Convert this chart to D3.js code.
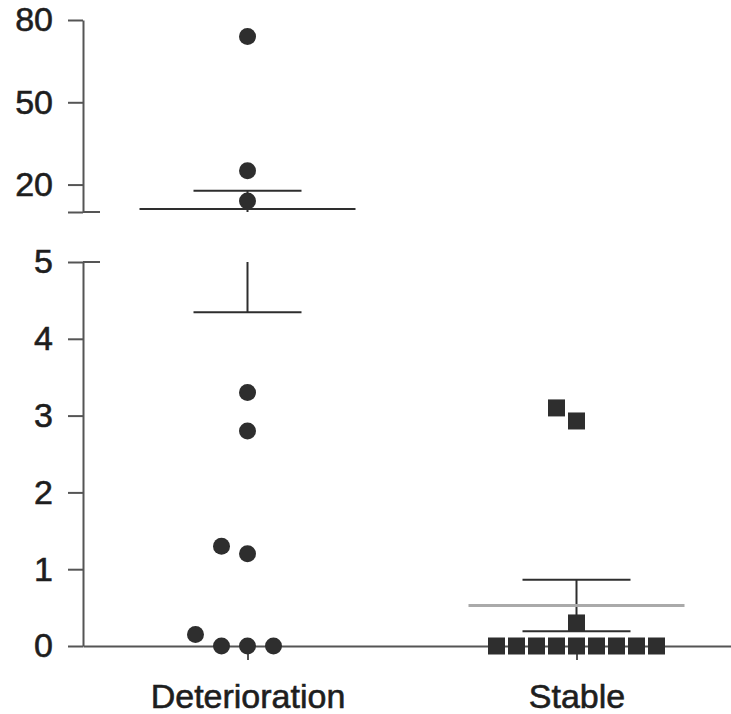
<!DOCTYPE html>
<html>
<head>
<meta charset="utf-8">
<script src="https://cdn.jsdelivr.net/npm/d3@7"></script>
<style>
  body { margin: 0; background: #fff; }
  svg { display: block; }
</style>
</head>
<body>
<svg id="chart"></svg>
<script>
// group names and raw values per group
const categories = ["Deterioration", "Stable"];
const deterioration = [74, 25, 14, 3.3, 2.8, 1.3, 1.2, 0.15, 0, 0, 0];
const stable = [3.1, 2.93, 0.3, 0, 0, 0, 0, 0, 0, 0, 0, 0];

// broken y axis: lower part 0-5, upper part 10-80
const lowerDomain = [0, 5];
const upperDomain = [10, 80];
const lowerTicks = [0, 1, 2, 3, 4, 5];
const upperTicks = [10, 20, 50, 80];

const width = 731;
const height = 714;
const ink = "#2e2e2e";
const axisInk = "#555";
const font = "'Liberation Sans', Arial, Helvetica, sans-serif";

const svg = d3.select("#chart")
    .attr("width", width)
    .attr("height", height);

svg.append("rect").attr("width", width).attr("height", height).attr("fill", "#fff");

const x = d3.scalePoint()
    .domain(categories)
    .range([83, 741])
    .padding(0.5);

const yLow = d3.scaleLinear().domain(lowerDomain).range([646, 262]);
const yHigh = d3.scaleLinear().domain(upperDomain).range([212, 20]);
const yVal = v => v <= lowerDomain[1] ? yLow(v) : yHigh(v);

function styleAxis(g) {
    g.attr("font-family", font).attr("font-size", 34);
    g.selectAll("path, line").attr("stroke", axisInk).attr("stroke-width", 2);
    // labels in the figure are a touch heavier than plain regular
    g.selectAll("text").attr("fill", "#1e1e1e")
        .attr("stroke", "#1e1e1e").attr("stroke-width", 0.6);
}

// lower y axis
svg.append("g")
    .attr("transform", "translate(83,0)")
    .call(d3.axisLeft(yLow).tickValues(lowerTicks).tickSize(15).tickSizeOuter(0).tickPadding(15).tickFormat(d3.format("d")))
    .call(styleAxis);

// upper y axis (10 is the break, unlabelled)
svg.append("g")
    .attr("transform", "translate(83,0)")
    .call(d3.axisLeft(yHigh).tickValues(upperTicks).tickSize(15).tickSizeOuter(0).tickPadding(15)
        .tickFormat(d => d === upperDomain[0] ? "" : d))
    .call(styleAxis);

// break marks stick out on the right too
[yLow(lowerDomain[1]), yHigh(upperDomain[0])].forEach(yy => {
    svg.append("line")
        .attr("x1", 83).attr("x2", 100)
        .attr("y1", yy).attr("y2", yy)
        .attr("stroke", axisInk).attr("stroke-width", 2);
});

// x axis
svg.append("g")
    .attr("transform", `translate(0,${yLow(0)})`)
    .call(d3.axisBottom(x).tickSize(14).tickSizeOuter(0).tickPadding(24))
    .call(styleAxis);

// spread points sideways where they would overlap
function spread(values, maxHalf) {
    const r = 8.5;
    const pts = values.map(v => ({ v, y: yVal(v) })).sort((a, b) => a.v - b.v);
    const placed = [];
    pts.forEach(p => {
        for (let k = 0; ; k++) {
            const slot = k === 0 ? 0 : (k % 2 ? -Math.ceil(k / 2) : k / 2);
            const hit = placed.some(q => q.slot === slot && Math.abs(q.y - p.y) < 2 * r);
            if (!hit) { p.slot = slot; placed.push(p); break; }
        }
    });
    const maxSlot = d3.max(placed, p => Math.abs(p.slot)) || 1;
    const step = Math.min(26, maxHalf / maxSlot);
    placed.forEach(p => p.dx = p.slot * step);
    return placed;
}

function meanSem(values) {
    const m = d3.mean(values);
    const s = d3.deviation(values) / Math.sqrt(values.length);
    return { m, lo: m - s, hi: m + s };
}

const groups = [
    { name: categories[0], values: deterioration, shape: "circle", meanColor: ink, meanWidth: 2 },
    { name: categories[1], values: stable, shape: "square", meanColor: "#aaa", meanWidth: 3 }
];

groups.forEach(gr => {
    const cx = x(gr.name);
    const pts = spread(gr.values, 80);
    const g = svg.append("g");

    if (gr.shape === "circle") {
        g.selectAll("circle").data(pts).join("circle")
            .attr("cx", d => cx + d.dx)
            .attr("cy", d => d.y)
            .attr("r", 8.5)
            .attr("fill", ink);
    } else {
        g.selectAll("rect").data(pts).join("rect")
            .attr("x", d => cx + d.dx - 8.5)
            .attr("y", d => d.y - 8.5)
            .attr("width", 17)
            .attr("height", 17)
            .attr("fill", ink);
    }

    const st = meanSem(gr.values);

    // whisker, clipped to each part of the broken axis
    [[yLow, lowerDomain], [yHigh, upperDomain]].forEach(([sc, dom]) => {
        const a = Math.max(st.lo, dom[0]);
        const b = Math.min(st.hi, dom[1]);
        if (a < b) {
            g.append("line")
                .attr("x1", cx).attr("x2", cx)
                .attr("y1", sc(a)).attr("y2", sc(b))
                .attr("stroke", ink).attr("stroke-width", 2);
        }
    });
    [st.lo, st.hi].forEach(v => {
        g.append("line")
            .attr("x1", cx - 54).attr("x2", cx + 54)
            .attr("y1", yVal(v)).attr("y2", yVal(v))
            .attr("stroke", ink).attr("stroke-width", 2);
    });
    g.append("line")
        .attr("x1", cx - 108).attr("x2", cx + 108)
        .attr("y1", yVal(st.m)).attr("y2", yVal(st.m))
        .attr("stroke", gr.meanColor).attr("stroke-width", gr.meanWidth);
});
</script>
</body>
</html>
